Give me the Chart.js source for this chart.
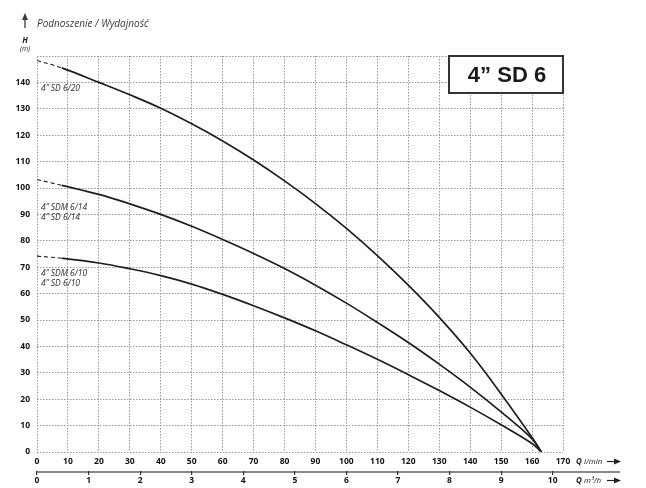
<!DOCTYPE html>
<html>
<head>
<meta charset="utf-8">
<script src="https://cdn.jsdelivr.net/npm/chart.js@4.4.1/dist/chart.umd.min.js"></script>
<style>
  html, body { margin: 0; padding: 0; background: #fff; }
  #wrap { position: relative; width: 646px; height: 488px; }
</style>
</head>
<body>
<div id="wrap"><canvas id="chart" width="646" height="488"></canvas></div>
<script>
// Q in l/min, H in m
const flowLmin = [0, 8, 20, 30, 40, 50, 60, 70, 80, 90, 100, 110, 120, 130, 140, 150, 160, 163]
const headSD620 = [148.3, 145.5, 140, 135.3, 130.2, 124.3, 117.8, 110.6, 102.7, 94.1, 84.7, 74.4, 63.2, 51, 37.5, 22, 5.5, 0]
const headSD614 = [103.2, 101, 97.6, 94, 90, 85.5, 80.5, 75.2, 69.5, 63.2, 56.4, 49.1, 41.5, 33.3, 24.6, 15.2, 5, 0]
const headSD610 = [74.2, 73.4, 71.6, 69.4, 66.8, 63.6, 59.7, 55.4, 50.8, 45.9, 40.6, 35.1, 29.3, 23.3, 17, 10.3, 3.2, 0]

const curveLabels = [['4” SD 6/20'], ['4” SDM 6/14', '4” SD 6/14'], ['4” SDM 6/10', '4” SD 6/10']]
const curveLabelHead = [137.5, 92.5, 67.5]

const flowTicks = [0, 10, 20, 30, 40, 50, 60, 70, 80, 90, 100, 110, 120, 130, 140, 150, 160, 170]
const m3hTicks = [0, 1, 2, 3, 4, 5, 6, 7, 8, 9, 10]
const headTicks = [0, 10, 20, 30, 40, 50, 60, 70, 80, 90, 100, 110, 120, 130, 140, 150]
const headTickLabels = ['0', '10', '20', '30', '40', '50', '60', '70', '80', '90', '100', '110', '120', '130', '140', '']

const lminPerM3h = 1000 / 60
const FONT = "'Open Sans', 'DejaVu Sans', sans-serif"
const gridColor = '#9a9a9a'

function makeSeries(label, heads) {
    return {
        label: label,
        data: flowLmin.map((q, i) => ({ x: q, y: heads[i] })),
        borderColor: '#1e1e1e',
        borderWidth: 1.7,
        pointRadius: 0,
        tension: 0.4,
        segment: {
            // first stretch of each curve is dashed in the original
            borderDash: ctx => ctx.p1DataIndex === 1 ? [4, 3] : undefined,
            borderWidth: ctx => ctx.p1DataIndex === 1 ? 1.1 : undefined
        }
    }
}

function arrowRight(ctx, x0, x1, y) {
    ctx.beginPath()
    ctx.moveTo(x0, y)
    ctx.lineTo(x1 - 5, y)
    ctx.stroke()
    ctx.beginPath()
    ctx.moveTo(x1, y)
    ctx.lineTo(x1 - 7, y - 3)
    ctx.lineTo(x1 - 7, y + 3)
    ctx.closePath()
    ctx.fill()
}

const decorations = {
    id: 'decorations',
    beforeDraw(chart) {
        const ctx = chart.ctx
        const ca = chart.chartArea
        ctx.save()
        ctx.fillStyle = '#fff'
        ctx.fillRect(0, 0, chart.width, chart.height)
        // second flow axis line, under the tick marks
        ctx.strokeStyle = '#8a8a8a'
        ctx.lineWidth = 2.2
        ctx.beginPath()
        ctx.moveTo(ca.left - 1, chart.scales.x2.top + 1)
        ctx.lineTo(620, chart.scales.x2.top + 1)
        ctx.stroke()
        ctx.restore()
    },
    afterDraw(chart) {
        const ctx = chart.ctx
        const ca = chart.chartArea
        const y = chart.scales.y
        const x = chart.scales.x
        const x2 = chart.scales.x2
        ctx.save()

        // header
        ctx.fillStyle = '#3a3a3a'
        ctx.strokeStyle = '#3a3a3a'
        ctx.lineWidth = 1.3
        ctx.beginPath()
        ctx.moveTo(25, 28)
        ctx.lineTo(25, 17)
        ctx.stroke()
        ctx.beginPath()
        ctx.moveTo(25, 13)
        ctx.lineTo(22, 20)
        ctx.lineTo(28, 20)
        ctx.closePath()
        ctx.fill()
        ctx.font = `italic 10px ${FONT}`
        ctx.textBaseline = 'alphabetic'
        ctx.textAlign = 'left'
        ctx.fillText('Podnoszenie / Wydajność', ca.left, 27)

        ctx.fillStyle = '#222'
        ctx.textAlign = 'center'
        ctx.font = `italic bold 8px ${FONT}`
        ctx.fillText('H', 25, 43)
        ctx.font = `italic 7px ${FONT}`
        ctx.fillText('(m)', 25, 51)

        // title box
        const bw = 114, bh = 37
        ctx.fillStyle = '#fff'
        ctx.fillRect(ca.right - bw, ca.top, bw, bh)
        ctx.strokeStyle = '#333'
        ctx.lineWidth = 2
        ctx.strokeRect(ca.right - bw, ca.top, bw, bh)
        ctx.fillStyle = '#1a1a1a'
        ctx.font = `bold 22px 'Liberation Sans', Arial, sans-serif`
        ctx.textAlign = 'center'
        ctx.fillText('4” SD 6', ca.right - bw / 2 + 1, ca.top + 26)

        // curve labels
        ctx.fillStyle = '#2b2b38'
        ctx.font = `italic 8.5px ${FONT}`
        ctx.textAlign = 'left'
        ctx.textBaseline = 'middle'
        curveLabels.forEach((lines, i) => {
            const py = y.getPixelForValue(curveLabelHead[i])
            lines.forEach((t, j) => ctx.fillText(t, ca.left + 4, py + j * 9.3))
        })

        // unit labels with arrows
        ctx.fillStyle = '#222'
        ctx.strokeStyle = '#222'
        ctx.lineWidth = 1.2
        const unitY1 = x.top + 9.5
        const unitY2 = x2.top + 9.5
        ctx.textBaseline = 'middle'
        ctx.font = `italic bold 8px ${FONT}`
        ctx.fillText('Q', 576, unitY1)
        ctx.fillText('Q', 576, unitY2)
        ctx.font = `italic 8px ${FONT}`
        ctx.fillText('l/min', 584, unitY1)
        ctx.fillText('m³/h', 584, unitY2)
        arrowRight(ctx, 607, 621, unitY1)
        arrowRight(ctx, 607, 621, unitY2)

        ctx.restore()
    }
}

new Chart(document.getElementById('chart'), {
    type: 'line',
    data: {
        datasets: [
            makeSeries('4” SD 6/20', headSD620),
            makeSeries('4” SDM 6/14 / 4” SD 6/14', headSD614),
            makeSeries('4” SDM 6/10 / 4” SD 6/10', headSD610)
        ]
    },
    options: {
        responsive: false,
        animation: false,
        layout: { padding: { top: 56, right: 83, left: 0, bottom: 0 } },
        plugins: {
            legend: { display: false },
            tooltip: { enabled: false }
        },
        scales: {
            x: {
                type: 'linear',
                min: 0,
                max: 170,
                weight: 0,
                afterBuildTicks: s => { s.ticks = flowTicks.map(v => ({ value: v })) },
                afterFit: s => { s.height = 19 },
                border: { display: false, dash: [1.5, 1.5] },
                grid: { color: gridColor, lineWidth: 1, drawTicks: false },
                ticks: {
                    color: '#111',
                    padding: 4,
                    maxRotation: 0,
                    autoSkip: false,
                    font: { family: FONT, size: 8.5, weight: 'bold' }
                }
            },
            x2: {
                type: 'linear',
                position: 'bottom',
                min: 0,
                max: flowTicks[flowTicks.length - 1] / lminPerM3h,
                weight: 1,
                afterBuildTicks: s => { s.ticks = m3hTicks.map(v => ({ value: v })) },
                afterFit: s => { s.height = 17 },
                border: { display: false },
                grid: { drawOnChartArea: false, drawTicks: true, tickLength: 4, color: '#333', lineWidth: 1.2 },
                ticks: {
                    color: '#111',
                    padding: 0,
                    maxRotation: 0,
                    autoSkip: false,
                    font: { family: FONT, size: 8.5, weight: 'bold' }
                }
            },
            y: {
                min: 0,
                max: 150,
                afterBuildTicks: s => { s.ticks = headTicks.map(v => ({ value: v })) },
                afterFit: s => { s.width = 37 },
                border: { display: false, dash: [1.5, 1.5] },
                grid: { color: gridColor, lineWidth: 1, drawTicks: false },
                ticks: {
                    color: '#111',
                    padding: 7,
                    autoSkip: false,
                    font: { family: FONT, size: 8.5, weight: 'bold' },
                    callback: (v, i) => headTickLabels[i]
                }
            }
        }
    },
    plugins: [decorations]
})
</script>
</body>
</html>
